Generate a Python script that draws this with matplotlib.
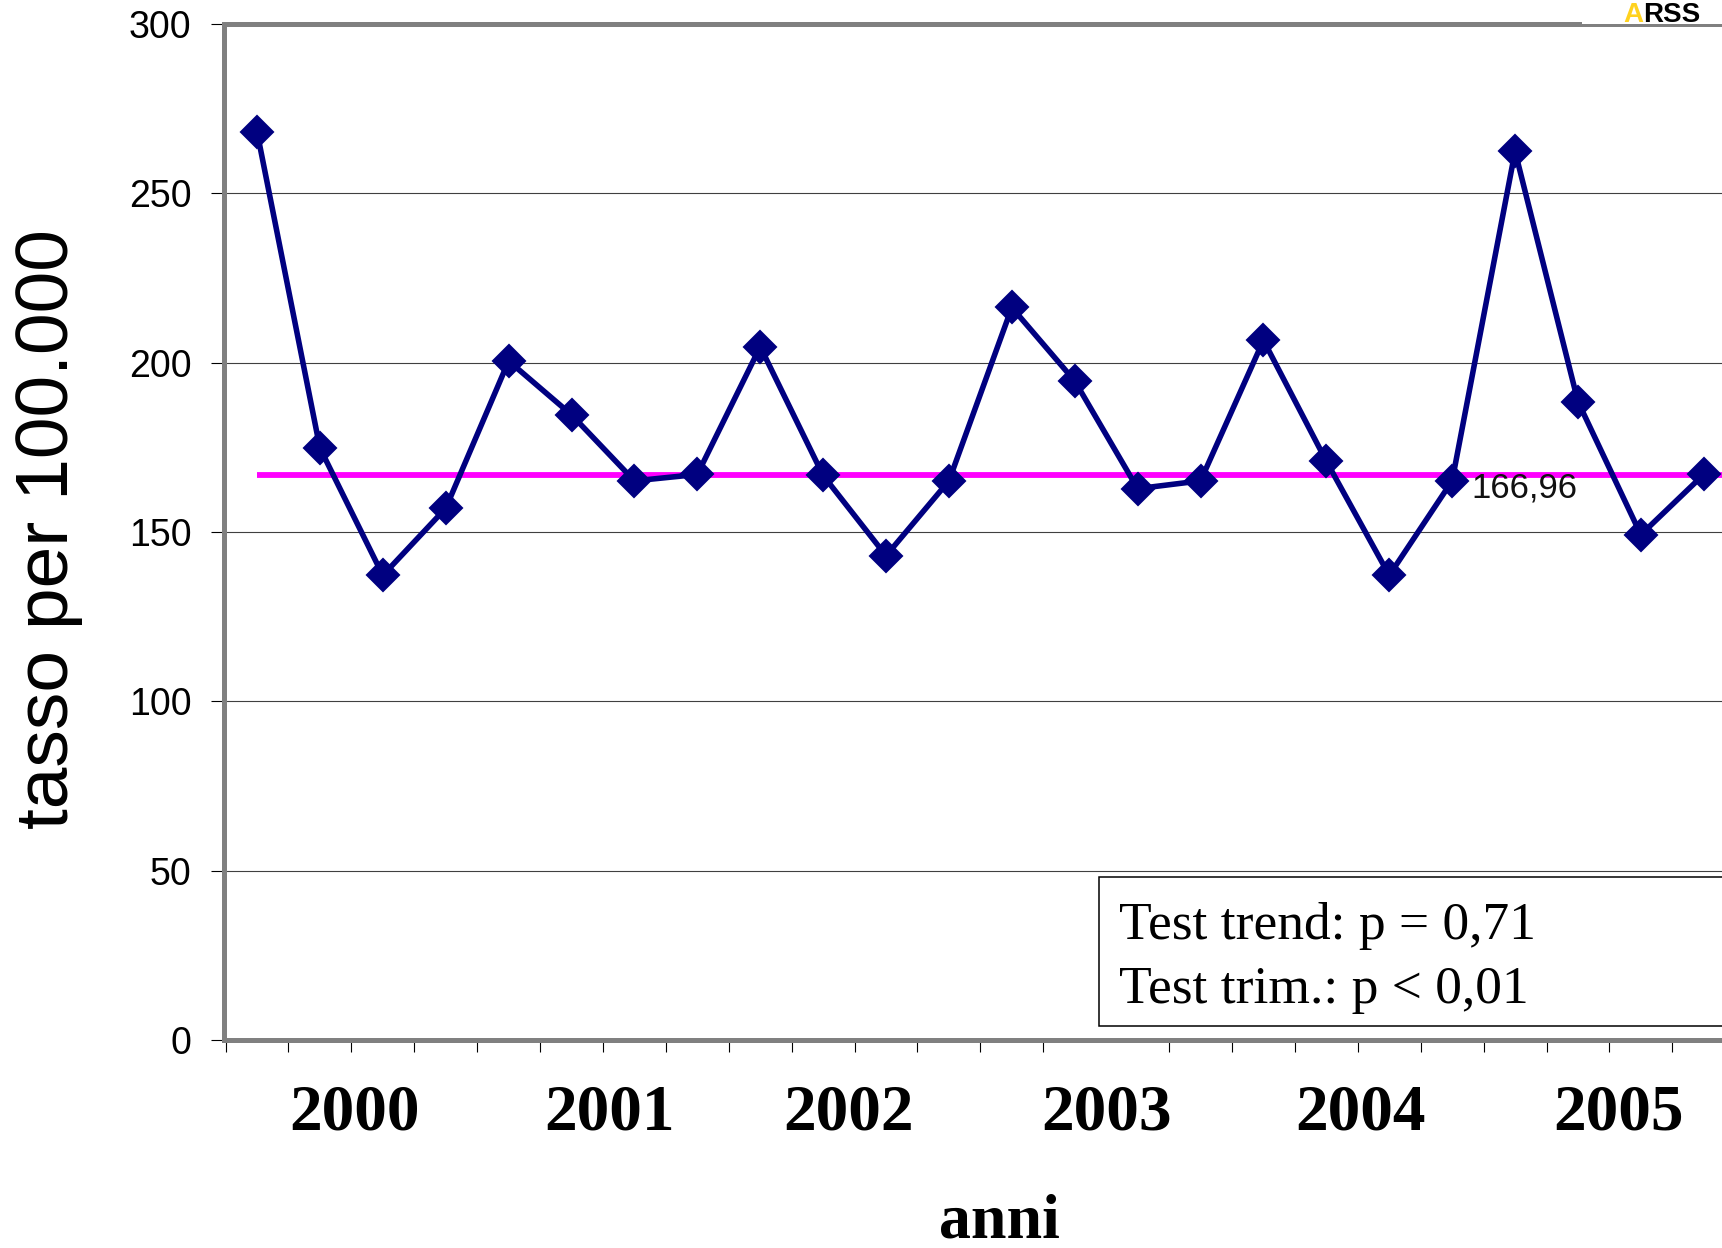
import numpy as np
import matplotlib.pyplot as plt
from matplotlib.patches import Rectangle

# quarterly rates, 2000-2005
rate = [268.2, 174.8, 137.2, 157.0, 200.5, 184.6, 165.1, 167.0,
        204.7, 166.7, 143.0, 165.1, 216.3, 194.6, 162.8, 165.1,
        206.6, 170.9, 137.2, 165.1, 262.4, 188.5, 149.2, 167.0]
ref_value = 166.96
ref_label = '166,96'
years = ['2000', '2001', '2002', '2003', '2004', '2005']
year_pos = [1.55, 5.6, 9.4, 13.5, 17.55, 21.65]
y_ticks = [0, 50, 100, 150, 200, 250, 300]
test_text = ['Test trend: p = 0,71', 'Test trim.: p < 0,01']

W, H = 1722, 1248
fig = plt.figure(figsize=(W / 100, H / 100), dpi=100)
ax = fig.add_axes([224 / W, 1 - 1040 / H, 1 - 224 / W, 1016 / H])

x = np.arange(len(rate))
x_right = 23.29

# grid
for v in y_ticks[1:-1]:
    ax.axhline(v, color='#404040', lw=0.8, zorder=1)

# reference line and series
ax.hlines(ref_value, 0, x_right, color='#FF00FF', lw=4.2, zorder=2)
ax.plot(x, rate, color='#000080', lw=4, marker='D', ms=16,
        mec='#000080', mew=1.5, solid_joinstyle='round', zorder=3)
ax.text(19.3, 163, ref_label, fontsize=25, family='Liberation Sans',
        color='#111111', ha='left', va='center', zorder=4)

# spines
for s in ['top', 'left', 'bottom']:
    ax.spines[s].set_color('#808080')
    ax.spines[s].set_linewidth(3.6)
ax.spines['right'].set_visible(False)

# y axis
ax.set_yticks(y_ticks)
ax.tick_params(axis='y', direction='out', length=9.4, width=0.8,
               color='black', pad=14, labelsize=27)
for lab in ax.get_yticklabels():
    lab.set_family('Liberation Sans')

# x axis: boundary ticks + year labels
ax.set_xticks(np.arange(len(rate) + 1) - 0.5, minor=True)
ax.tick_params(axis='x', which='minor', direction='out', length=8.6,
               width=0.8, color='black')
ax.set_xticks(year_pos)
ax.set_xticklabels(years, fontsize=47, family='Liberation Serif',
                   fontweight='bold')
ax.tick_params(axis='x', which='major', length=0, pad=31)

ax.set_xlim(-0.525, x_right)
ax.set_ylim(0, 300)

# test box
ax.add_patch(Rectangle((0.584, 0.0138), 0.5, 0.147, transform=ax.transAxes,
                       facecolor='white', edgecolor='black', lw=1.1,
                       zorder=5))
ax.text(0.5975, 0.112, test_text[0], transform=ax.transAxes, fontsize=38.5,
        family='Liberation Serif', ha='left', va='center', zorder=6)
ax.text(0.5975, 0.049, test_text[1], transform=ax.transAxes, fontsize=38.5,
        family='Liberation Serif', ha='left', va='center', zorder=6)

# axis titles
fig.text(49 / W, 1 - 529 / H, 'tasso per 100.000', rotation=90,
         fontsize=54, family='Liberation Sans', ha='center', va='center')
fig.text(999 / W, 1 - 1222 / H, 'anni', fontsize=46,
         family='Liberation Serif', fontweight='bold',
         ha='center', va='center')

# logo in the top right corner
fig.patches.append(Rectangle((1582 / W, 1 - 24 / H), 140 / W, 8 / H,
                             transform=fig.transFigure, facecolor='white',
                             edgecolor='none', zorder=10))
fig.text(1623 / W, 1 - 15 / H, 'A', fontsize=20, family='Liberation Sans',
         fontweight='bold', color='#FFD21F', ha='left', va='center',
         zorder=11)
fig.text(1643 / W, 1 - 15 / H, 'RSS', fontsize=20, family='Liberation Sans',
         fontweight='bold', color='black', ha='left', va='center',
         zorder=11)

fig.savefig('out.png', dpi=100)
